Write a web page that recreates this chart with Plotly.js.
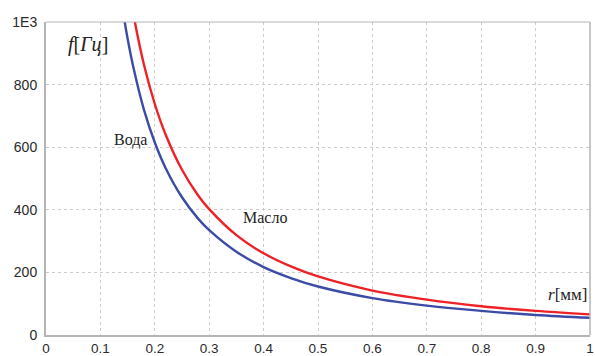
<!DOCTYPE html>
<html>
<head>
<meta charset="utf-8">
<script src="https://cdn.plot.ly/plotly-3.0.1.min.js"></script>
<style>html,body{margin:0;padding:0;background:#fff;}#chart{width:595px;height:356px;}</style>
</head>
<body>
<div id="chart"></div>
<script>
// radius r [mm]
var radius = [0.14, 0.15, 0.16, 0.18, 0.2, 0.22, 0.25, 0.28, 0.3, 0.35, 0.4, 0.45, 0.5, 0.6, 0.7, 0.8, 0.9, 1.0];
// frequency f [Hz] — water (Вода)
var waterF = [1050, 947, 860, 720, 615, 533, 440, 371, 335, 266, 217, 182, 155, 118, 94, 77, 64, 55];
// frequency f [Hz] — oil (Масло)
var oilF = [1260, 1136, 1031, 864, 738, 640, 528, 445, 402, 319, 261, 219, 187, 142, 113, 92, 77, 66];

var xTickVals = [0, 0.1, 0.2, 0.3, 0.4, 0.5, 0.6, 0.7, 0.8, 0.9, 1];
var xTickText = ["0", "0.1", "0.2", "0.3", "0.4", "0.5", "0.6", "0.7", "0.8", "0.9", "1"];
var yTickVals = [0, 200, 400, 600, 800, 1000];
var yTickText = ["0", "200", "400", "600", "800", "1E3"];

var traces = [
  {x: radius, y: oilF, mode: "lines", line: {color: "#ec2227", width: 2.4, shape: "spline"}, hoverinfo: "skip"},
  {x: radius, y: waterF, mode: "lines", line: {color: "#3c4ca6", width: 2.4, shape: "spline"}, hoverinfo: "skip"}
];

var serif = "Liberation Serif, Times New Roman, serif";
var layout = {
  width: 595, height: 356,
  margin: {l: 46, r: 5, t: 22, b: 21},
  paper_bgcolor: "#ffffff", plot_bgcolor: "#ffffff",
  showlegend: false,
  font: {family: "Liberation Sans, Arial, sans-serif", size: 14, color: "#2a2a2a"},
  xaxis: {
    range: [0, 1], tickvals: xTickVals, ticktext: xTickText,
    tickfont: {size: 13.5},
    showgrid: true, gridcolor: "#cccccc", griddash: "dot", gridwidth: 1,
    zeroline: false, showline: true, linecolor: "#b4b4b4", linewidth: 2,
    mirror: false, ticks: "", ticklabelstandoff: 0, fixedrange: true
  },
  yaxis: {
    range: [0, 1000], tickvals: yTickVals, ticktext: yTickText,
    showgrid: true, gridcolor: "#cccccc", griddash: "dot", gridwidth: 1,
    zeroline: false, showline: true, linecolor: "#b4b4b4", linewidth: 2,
    ticks: "", ticklabelstandoff: 4, fixedrange: true
  },
  shapes: [
    {type: "line", xref: "paper", yref: "paper", x0: 0, x1: 1, y0: 1, y1: 1, line: {color: "#b4b4b4", width: 1}},
    {type: "line", xref: "paper", yref: "paper", x0: 1, x1: 1, y0: 0, y1: 1, line: {color: "#b4b4b4", width: 1.5}}
  ],
  annotations: [
    {x: 0.078, y: 928, xref: "x", yref: "y", text: "<i>f</i>[<i>Гц</i>]", showarrow: false, font: {family: serif, size: 20, color: "#222"}},
    {x: 0.155, y: 624, xref: "x", yref: "y", text: "Вода", showarrow: false, font: {family: serif, size: 16, color: "#222"}},
    {x: 0.403, y: 374, xref: "x", yref: "y", text: "Масло", showarrow: false, font: {family: serif, size: 16, color: "#222"}},
    {x: 0.958, y: 128, xref: "x", yref: "y", text: "<i>r</i>[мм]", showarrow: false, font: {family: serif, size: 17, color: "#222"}}
  ]
};

Plotly.newPlot("chart", traces, layout, {staticPlot: true, displayModeBar: false});
</script>
</body>
</html>
